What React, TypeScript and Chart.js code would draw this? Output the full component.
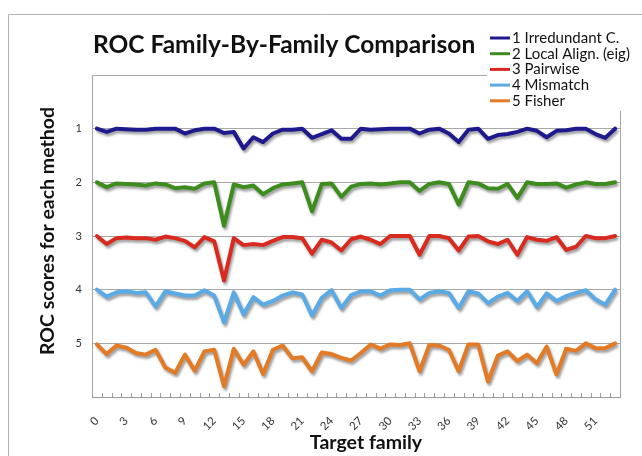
import React, { useEffect, useRef } from 'react';
import { Chart, registerables } from 'chart.js';

Chart.register(...registerables);

const categories = [
  '0', '1', '2', '3', '4', '5', '6', '7', '8', '9',
  '10', '11', '12', '13', '14', '15', '16', '17', '18', '19',
  '20', '21', '22', '23', '24', '25', '26', '27', '28', '29',
  '30', '31', '32', '33', '34', '35', '36', '37', '38', '39',
  '40', '41', '42', '43', '44', '45', '46', '47', '48', '49',
  '50', '51', '52', '53',
];

const seriesNames = ['1 Irredundant C.', '2 Local Align. (eig)', '3 Pairwise', '4 Mismatch', '5 Fisher'];
const seriesColors = ['#1e1a8e', '#3c8c1e', '#d92a20', '#5aaae6', '#e27a26'];

const irredundant = [
  1.00, 1.06, 1.00, 1.01, 1.02, 1.02, 1.00, 1.00, 1.00, 1.09,
  1.03, 1.00, 1.00, 1.08, 1.06, 1.37, 1.16, 1.25, 1.09, 1.02,
  1.02, 1.00, 1.17, 1.10, 1.03, 1.19, 1.19, 1.00, 1.02, 1.01,
  1.00, 1.00, 1.00, 1.09, 1.02, 1.00, 1.09, 1.25, 1.02, 1.00,
  1.19, 1.12, 1.10, 1.06, 1.00, 1.04, 1.16, 1.04, 1.03, 1.00,
  1.00, 1.10, 1.17, 1.00,
];
const localAlign = [
  2.00, 2.09, 2.02, 2.03, 2.04, 2.06, 2.02, 2.04, 2.11, 2.09,
  2.12, 2.02, 2.00, 2.81, 2.04, 2.09, 2.06, 2.22, 2.11, 2.04,
  2.02, 2.00, 2.54, 2.03, 2.02, 2.27, 2.08, 2.03, 2.02, 2.04,
  2.02, 2.00, 2.00, 2.16, 2.03, 2.00, 2.03, 2.41, 2.00, 2.02,
  2.11, 2.12, 2.03, 2.29, 2.00, 2.03, 2.03, 2.02, 2.10, 2.04,
  2.00, 2.03, 2.03, 2.00,
];
const pairwise = [
  3.00, 3.15, 3.04, 3.03, 3.04, 3.04, 3.07, 3.01, 3.04, 3.09,
  3.21, 3.02, 3.10, 3.83, 3.04, 3.17, 3.15, 3.17, 3.09, 3.02,
  3.02, 3.04, 3.33, 3.07, 3.12, 3.27, 3.06, 3.01, 3.07, 3.15,
  3.00, 3.00, 3.00, 3.35, 3.00, 3.00, 3.04, 3.27, 3.01, 3.00,
  3.10, 3.15, 3.07, 3.35, 3.02, 3.07, 3.09, 3.02, 3.26, 3.20,
  3.00, 3.04, 3.04, 3.00,
];
const mismatch = [
  4.00, 4.13, 4.05, 4.03, 4.06, 4.05, 4.31, 4.03, 4.07, 4.11,
  4.11, 4.01, 4.11, 4.61, 4.05, 4.46, 4.14, 4.28, 4.21, 4.11,
  4.05, 4.09, 4.48, 4.15, 4.01, 4.34, 4.10, 4.03, 4.03, 4.11,
  4.01, 4.00, 4.00, 4.18, 4.06, 4.03, 4.06, 4.34, 4.03, 4.07,
  4.25, 4.13, 4.06, 4.21, 4.03, 4.32, 4.07, 4.21, 4.12, 4.06,
  4.01, 4.18, 4.28, 4.00,
];
const fisher = [
  5.02, 5.20, 5.04, 5.08, 5.18, 5.21, 5.12, 5.45, 5.55, 5.21,
  5.51, 5.15, 5.12, 5.80, 5.10, 5.40, 5.15, 5.57, 5.12, 5.04,
  5.28, 5.26, 5.52, 5.17, 5.20, 5.27, 5.32, 5.18, 5.02, 5.10,
  5.02, 5.03, 5.00, 5.52, 5.03, 5.04, 5.12, 5.52, 5.02, 5.02,
  5.71, 5.23, 5.15, 5.33, 5.21, 5.37, 5.06, 5.58, 5.10, 5.14,
  5.00, 5.09, 5.09, 5.00,
];

const yTickValues = [1, 2, 3, 4, 5];
const xLabelEvery = 3;
const chartTitle = 'ROC Family-By-Family Comparison';
const xTitle = 'Target family';
const yTitle = 'ROC scores for each method';

const W = 642;
const H = 456;
const FONT = 'Lato, "Open Sans", "DejaVu Sans", sans-serif';

export default function App() {
  const ref = useRef<HTMLCanvasElement>(null);

  useEffect(() => {
    const canvas = ref.current;
    if (!canvas) return;
    const allSeries = [irredundant, localAlign, pairwise, mismatch, fisher];

    const decor = {
      id: 'decor',
      beforeDraw(chart: any) {
        const ctx = chart.ctx;
        const a = chart.chartArea;
        ctx.save();
        ctx.fillStyle = '#ffffff';
        ctx.fillRect(0, 0, W, H);
        ctx.strokeStyle = '#b4b4b4';
        ctx.lineWidth = 1;
        ctx.beginPath();
        ctx.moveTo(8.5, H);
        ctx.lineTo(8.5, 14.5);
        ctx.lineTo(W, 14.5);
        ctx.stroke();
        ctx.strokeStyle = '#a8a8a8';
        ctx.strokeRect(Math.round(a.left) + 0.5, Math.round(a.top) + 0.5, Math.round(a.right - a.left), Math.round(a.bottom - a.top));
        ctx.restore();
      },
      beforeDatasetsDraw(chart: any) {
        const ctx = chart.ctx;
        ctx.save();
        ctx.shadowColor = 'rgba(0,0,0,0.38)';
        ctx.shadowBlur = 2.5;
        ctx.shadowOffsetX = 1.5;
        ctx.shadowOffsetY = 2.5;
      },
      afterDatasetsDraw(chart: any) {
        chart.ctx.restore();
      },
      afterDraw(chart: any) {
        const ctx = chart.ctx;
        const a = chart.chartArea;
        ctx.save();
        // x tick marks (inside)
        ctx.strokeStyle = '#9a9a9a';
        ctx.lineWidth = 1;
        const n = categories.length;
        ctx.beginPath();
        for (let k = 0; k <= n; k++) {
          const x = Math.round(a.left + (k * (a.right - a.left)) / n) + 0.5;
          ctx.moveTo(x, a.bottom);
          ctx.lineTo(x, a.bottom - 4);
        }
        ctx.stroke();
        ctx.beginPath();
        ctx.moveTo(a.left, Math.round(a.bottom) + 0.5);
        ctx.lineTo(a.right, Math.round(a.bottom) + 0.5);
        ctx.stroke();

        ctx.fillStyle = '#111111';
        // title
        ctx.font = `bold 24.5px ${FONT}`;
        ctx.textAlign = 'left';
        ctx.textBaseline = 'middle';
        ctx.fillText(chartTitle, 93, 45);
        // x title
        ctx.font = `bold 19.5px ${FONT}`;
        ctx.textAlign = 'center';
        ctx.fillText(xTitle, 366, 443);
        // y title
        ctx.save();
        ctx.translate(48, 231);
        ctx.rotate(-Math.PI / 2);
        ctx.font = `bold 19.5px ${FONT}`;
        ctx.fillText(yTitle, 0, 0);
        ctx.restore();

        // legend
        ctx.fillStyle = '#ffffff';
        ctx.fillRect(487, 27, W - 487, 84);
        ctx.font = `15px ${FONT}`;
        ctx.textAlign = 'left';
        ctx.textBaseline = 'middle';
        for (let k = 0; k < seriesNames.length; k++) {
          const y = 38 + 15.7 * k;
          ctx.strokeStyle = seriesColors[k];
          ctx.lineWidth = 3;
          ctx.beginPath();
          ctx.moveTo(490, y);
          ctx.lineTo(510, y);
          ctx.stroke();
          ctx.fillStyle = '#111111';
          ctx.fillText(seriesNames[k], 512, y);
        }
        ctx.restore();
      },
    };

    const chart = new Chart(canvas, {
      type: 'line',
      data: {
        labels: categories,
        datasets: seriesNames.map((name, k) => ({
          label: name,
          data: allSeries[k],
          borderColor: seriesColors[k],
          backgroundColor: seriesColors[k],
          borderWidth: 4,
          pointRadius: 0,
          tension: 0,
          fill: false,
          borderJoinStyle: 'round' as const,
          borderCapStyle: 'round' as const,
        })),
      },
      options: {
        responsive: false,
        devicePixelRatio: 1,
        animation: false,
        layout: { padding: { top: 75, right: 15, bottom: 0, left: 0 } },
        plugins: {
          legend: { display: false },
          title: { display: false },
          tooltip: { enabled: false },
        },
        scales: {
          x: {
            type: 'category',
            offset: true,
            grid: { display: false, drawTicks: false },
            border: { display: false },
            ticks: {
              autoSkip: false,
              maxRotation: 45,
              minRotation: 45,
              padding: 17,
              color: '#333333',
              font: { family: FONT, size: 11.5 },
              callback: (_v: any, i: number) => (i % xLabelEvery === 0 ? categories[i] : ''),
            },
            afterFit: (s: any) => {
              s.height = 59;
            },
          },
          y: {
            type: 'linear',
            min: 0,
            max: 6,
            reverse: true,
            grid: {
              drawTicks: false,
              color: (c: any) => (yTickValues.includes(c.tick?.value) ? '#a8a8a8' : 'rgba(0,0,0,0)'),
              lineWidth: 1,
            },
            border: { display: false },
            ticks: {
              stepSize: 1,
              padding: 10,
              color: '#333333',
              font: { family: FONT, size: 11 },
              callback: (v: any) => (yTickValues.includes(v) ? String(v) : ''),
            },
            afterFit: (s: any) => {
              s.width = 92;
            },
          },
        },
      },
      plugins: [decor],
    } as any);

    return () => chart.destroy();
  }, []);

  return (
    <div style={{ position: 'fixed', left: 0, top: 0, width: W, height: H, background: '#fff' }}>
      <canvas ref={ref} width={W} height={H} style={{ display: 'block', width: W, height: H }} />
    </div>
  );
}
